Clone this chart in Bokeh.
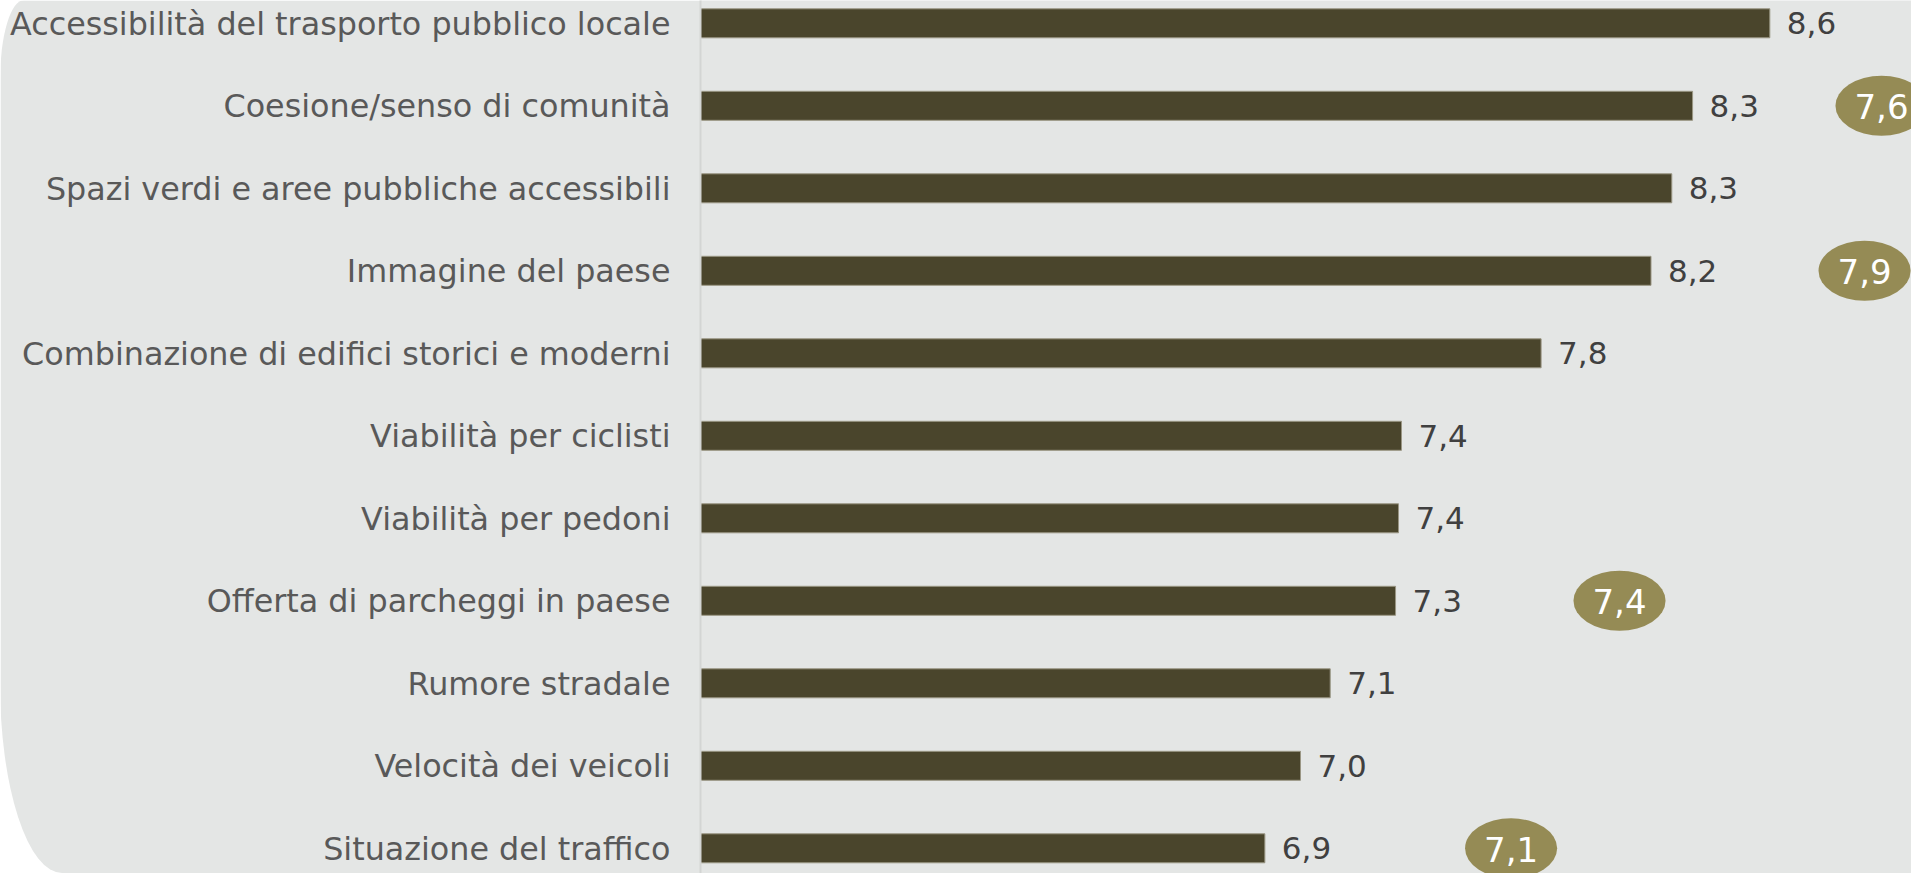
from bokeh.plotting import figure
from bokeh.models import Range1d, FixedTicker, ColumnDataSource
from bokeh.embed import file_html
from bokeh.resources import INLINE
from bokeh.core.properties import value

# ---------------- data ----------------
categories = [
    "Accessibilità del trasporto pubblico locale",
    "Coesione/senso di comunità",
    "Spazi verdi e aree pubbliche accessibili",
    "Immagine del paese",
    "Combinazione di edifici storici e moderni",
    "Viabilità per ciclisti",
    "Viabilità per pedoni",
    "Offerta di parcheggi in paese",
    "Rumore stradale",
    "Velocità dei veicoli",
    "Situazione del traffico",
]
scores = [8.60, 8.34, 8.27, 8.20, 7.83, 7.36, 7.35, 7.34, 7.12, 7.02, 6.90]

benchmark_categories = [
    "Coesione/senso di comunità",
    "Immagine del paese",
    "Offerta di parcheggi in paese",
    "Situazione del traffico",
]
benchmark_values = [7.6, 7.9, 7.4, 7.1]

# ---------------- layout / style ----------------
AXIS_MIN = 5.0
AXIS_MAX = 9.077
badge_x = [8.976, 8.919, 8.094, 7.729]   # where the badges sit (layout)

BG = "#e4e6e5"
BAR = "#4a452c"
BAR_EDGE = "#9a9684"
BADGE = "#958b55"
FONT = "DejaVu Sans"


def fmt(v):
    return f"{v + 1e-6:.1f}".replace(".", ",")


rows = list(range(len(categories)))
src = ColumnDataSource(dict(
    y=rows,
    right=scores,
    label=[fmt(v) for v in scores],
))
brow = [categories.index(c) for c in benchmark_categories]
bsrc = ColumnDataSource(dict(
    x=badge_x,
    y=brow,
    label=[fmt(v) for v in benchmark_values],
))

p = figure(
    width=1911, height=873,
    x_range=Range1d(AXIS_MIN, AXIS_MAX),
    y_range=Range1d(10.3055, -0.2764),
    x_axis_location=None,
    toolbar_location=None,
    output_backend="svg",
    min_border_left=700, min_border_right=0,
    min_border_top=0, min_border_bottom=0,
    background_fill_color=BG,
    border_fill_color=BG,
    outline_line_color=None,
)
p.grid.visible = False

yax = p.yaxis[0]
yax.ticker = FixedTicker(ticks=rows)
yax.major_label_overrides = {i: c for i, c in enumerate(categories)}
yax.major_label_text_font = FONT
yax.major_label_text_font_size = "31.8px"
yax.major_label_text_color = "#595959"
yax.major_label_standoff = 24
yax.major_tick_line_color = None
yax.minor_tick_line_color = None
yax.axis_line_color = "#d3d5d4"
yax.axis_line_width = 2

p.hbar(y="y", left=AXIS_MIN, right="right", height=0.3515, source=src,
       fill_color=BAR, line_color=BAR_EDGE, line_width=1)

p.text(x="right", y="y", text="label", source=src,
       x_offset=17, y_offset=0,
       text_align="left", text_baseline="middle",
       text_font=value(FONT), text_font_size="31px", text_color="#404040")

p.ellipse(x="x", y="y", width=0.31, height=0.727, source=bsrc,
          fill_color=BADGE, line_color=None)
p.text(x="x", y="y", text="label", source=bsrc,
       y_offset=1,
       text_align="center", text_baseline="middle",
       text_font=value(FONT), text_font_size="34px", text_color="white")

p.styles = {
    "border-radius": "24px 0px 0px 62px / 80px 0px 0px 190px",
    "overflow": "hidden",
}

open("out.html", "w").write(file_html(p, INLINE))
